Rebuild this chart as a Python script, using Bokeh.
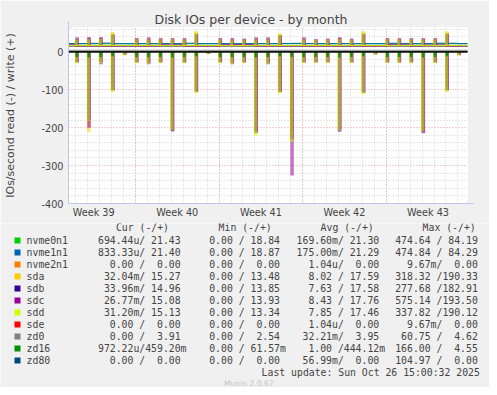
import math
import pandas as pd
from bokeh.plotting import figure
from bokeh.models import Range1d, FixedTicker, Span, Label, Arrow, NormalHead
from bokeh.layouts import column
from bokeh.embed import file_html
from bokeh.resources import INLINE
from bokeh.core.properties import value

# ---------------- data ----------------
days = pd.date_range("2025-09-23", "2025-10-26", freq="D")   # Tue Sep 23 .. Sun Oct 26 (34 days)
spike_hour = 2                                               # nightly burst at 02:00
x_start, x_end = "2025-09-23 09:20", "2025-10-26 19:20"
week_starts = ["2025-09-22", "2025-09-29", "2025-10-06", "2025-10-13", "2025-10-20", "2025-10-27"]
week_label_at = ["2025-09-25 12:00", "2025-10-02 12:00", "2025-10-09 12:00",
                 "2025-10-16 12:00", "2025-10-23 12:00"]
week_labels = ["Week 39", "Week 40", "Week 41", "Week 42", "Week 43"]
y_ticks = [-400, -300, -200, -100, 0]
y_labels = ["-400", "-300", "-200", "-100", "0"]
y_minor = [-380, -360, -340, -320, -280, -260, -240, -220, -180, -160, -140, -120,
           -80, -60, -40, -20, 20, 40, 60]

devices = ["nvme0n1", "nvme1n1", "nvme2n1", "sda", "sdb", "sdc", "sdd", "sde", "zd0", "zd16", "zd80"]
colors = ["#00CC00", "#0066B3", "#FF8000", "#FFCC00", "#330099", "#990099",
          "#CCFF00", "#FF0000", "#808080", "#008F00", "#00487D"]

# write (+) baseline per day, write (+) burst peak, read (-) burst peak
nvme0n1_wbase = [21.3, 21.3, 21.2, 21.3, 21.4, 21.3, 21.3, 21.2, 21.3, 21.3, 21.4, 21.3, 21.3, 21.2, 21.3, 21.3, 21.3,
                 21.4, 21.3, 21.3, 21.3, 21.2, 21.3, 21.3, 21.3, 21.4, 21.3, 21.3, 21.3, 21.2, 21.3, 21.3, 21.4, 21.4]
nvme0n1_read = [0, 0, -3, 0, -7, 0, 0, 0, 0, -3, 0, -7, 0, 0, 0, 0, -6,
                0, -7, -9, 0, 0, 0, -6, 0, -7, 0, 0, 0, 0, -3, 0, -7, 0]
nvme1n1_wbase = [21.4, 21.6, 22.2, 22.8, 21.4, 21.4, 21.4, 21.4, 21.4, 21.5, 22.5, 21.4, 21.4, 21.4, 21.4, 21.4, 21.4,
                 21.4, 22.0, 22.3, 21.6, 21.4, 21.4, 21.6, 21.4, 21.4, 21.4, 22.4, 22.0, 21.4, 21.5, 22.6, 22.5, 21.4]
nvme1n1_read = [0, 0, -3, 0, -8, 0, 0, 0, 0, -3, 0, -8, 0, 0, 0, 0, -8,
                0, -8, -10, 0, 0, 0, -8, 0, -8, 0, 0, 0, 0, -3, 0, -8, 0]
nvme2n1_wbase = [0, 0, 0, 0, 0, 0, 0, 0, 0, 0, 0, 0, 0, 0, 0, 0, 0,
                 0, 0, 0, 0, 0, 0, 0, 0, 0, 0, 0, 0, 0, 0, 0, 0, 0]

sda_wbase = [15.3, 15.3, 15.2, 15.3, 15.4, 15.3, 15.3, 15.3, 15.2, 15.3, 15.3, 15.4, 15.3, 15.3, 15.3, 15.3, 15.2,
             15.3, 15.4, 15.3, 15.3, 15.3, 15.3, 15.2, 15.3, 15.4, 15.3, 15.3, 15.3, 15.3, 15.2, 15.3, 15.4, 15.3]
sda_write = [35, 35, 36, 36, 52, 15.3, 34, 35, 34, 34, 34, 54, 15.3, 34, 33, 33, 35,
             35, 49, 15.3, 35, 32, 33, 36, 33, 54, 15.3, 34, 34, 34, 34, 34, 54, 15.3]
sda_read = [-28, -28, -212, -28, -104, -9, -28, -30, -28, -205, -28, -108, -6, -28, -30, -28, -216,
            -30, -108, -234, -28, -28, -28, -206, -28, -110, -7, -28, -28, -28, -208, -28, -104, -9]

sdb_wbase = [15.0, 15.0, 14.9, 15.0, 15.1, 15.0, 15.0, 15.0, 14.9, 15.0, 15.0, 15.1, 15.0, 15.0, 15.0, 15.0, 14.9,
             15.0, 15.1, 15.0, 15.0, 15.0, 15.0, 14.9, 15.0, 15.1, 15.0, 15.0, 15.0, 15.0, 14.9, 15.0, 15.1, 15.0]
sdb_write = [34, 34, 35, 35, 45, 15.0, 33, 34, 33, 33, 33, 46, 15.0, 33, 32, 32, 34,
             34, 43, 15.0, 34, 31, 32, 35, 32, 46, 15.0, 33, 33, 33, 33, 33, 46, 15.0]
sdb_read = [-26, -27, -180, -27, -100, -7, -27, -28, -27, -208, -27, -104, -5, -27, -28, -27, -214,
            -28, -105, -230, -27, -27, -26, -211, -27, -107, -6, -27, -27, -27, -212, -27, -100, -8]

sdc_wbase = [18.0, 15.1, 15.1, 15.1, 15.1, 15.1, 15.1, 15.1, 18.0, 18.2, 15.1, 15.1, 15.1, 18.3, 18.5, 18.4, 15.1,
             15.1, 15.1, 15.1, 15.1, 15.1, 15.1, 15.1, 15.1, 15.1, 15.1, 18.2, 18.0, 15.1, 17.6, 17.8, 15.1, 15.1]
sdc_write = [38, 38, 39, 39, 46, 15.1, 36, 38, 36, 36, 36, 48, 15.1, 36, 36, 35, 38,
             38, 44, 15.1, 38, 34, 35, 38, 35, 48, 15.1, 36, 36, 36, 36, 36, 48, 15.1]
sdc_read = [-30, -29, -200, -33, -102, -8, -29, -33, -29, -210, -29, -106, -6, -29, -33, -29, -210,
            -33, -107, -326, -29, -29, -29, -205, -29, -108, -7, -29, -29, -29, -215, -29, -102, -9]

sdd_wbase = [16.0, 16.0, 15.9, 16.0, 16.1, 16.0, 16.0, 16.0, 15.9, 16.0, 16.0, 16.1, 16.0, 16.0, 16.0, 16.0, 15.9,
             16.0, 16.1, 16.0, 16.0, 16.0, 16.0, 15.9, 16.0, 16.1, 16.0, 16.0, 16.0, 16.0, 15.9, 16.0, 16.1, 16.0]
sdd_write = [33, 33, 34, 34, 50, 16.0, 33, 33, 33, 33, 33, 52, 16.0, 33, 32, 32, 33,
             33, 47, 16.0, 33, 31, 32, 34, 32, 52, 16.0, 33, 33, 33, 33, 33, 52, 16.0]
sdd_read = [-30, -30, -182, -30, -106, -10, -30, -31, -30, -207, -30, -108, -6, -30, -31, -30, -222,
            -31, -110, -238, -30, -30, -30, -207, -30, -112, -8, -30, -30, -30, -210, -30, -106, -10]

sde_wbase = [0, 0, 0, 0, 0, 0, 0, 0, 0, 0, 0, 0, 0, 0, 0, 0, 0,
             0, 0, 0, 0, 0, 0, 0, 0, 0, 0, 0, 0, 0, 0, 0, 0, 0]
zd0_wbase = [3.9, 3.9, 4.0, 3.9, 3.9, 3.9, 3.9, 4.0, 3.9, 3.9, 3.9, 3.9, 3.9, 4.0, 3.9, 3.9, 3.9,
             3.9, 3.9, 4.0, 3.9, 3.9, 3.9, 3.9, 3.9, 4.0, 3.9, 3.9, 3.9, 3.9, 3.9, 4.0, 3.9, 3.9]
zd16_wbase = [0.45, 0.45, 0.44, 0.45, 0.45, 0.45, 0.44, 0.45, 0.45, 0.45, 0.44, 0.45, 0.45, 0.45, 0.44, 0.45, 0.45,
              0.45, 0.44, 0.45, 0.45, 0.45, 0.44, 0.45, 0.45, 0.45, 0.44, 0.45, 0.45, 0.45, 0.44, 0.45, 0.45, 0.46]
zd16_read = [-14, -14, -15, -14, -12, 0, -14, -14, -14, -15, -14, -12, 0, -14, -14, -14, -15,
             -14, -12, -14, -14, -14, -14, -15, -14, -12, 0, -14, -14, -14, -15, -14, -12, 0]
zd80_wbase = [0, 0, 0, 0, 0, 0, 0, 0, 0, 0, 0, 0, 0, 0, 0, 0, 0,
              0, 0, 0, 0, 0, 0, 0, 0, 0, 0, 0, 0, 0, 0, 0, 0, 0]

# legend table (Cur / Min / Avg / Max as "read/write")
cur_vals = ["694.44u/ 21.43", "833.33u/ 21.40", "  0.00 /  0.00", " 32.04m/ 15.27", " 33.96m/ 14.96",
            " 26.77m/ 15.08", " 31.20m/ 15.13", "  0.00 /  0.00", "  0.00 /  3.91", "972.22u/459.20m",
            "  0.00 /  0.00"]
min_vals = ["  0.00 / 18.84", "  0.00 / 18.87", "  0.00 /  0.00", "  0.00 / 13.48", "  0.00 / 13.85",
            "  0.00 / 13.93", "  0.00 / 13.34", "  0.00 /  0.00", "  0.00 /  2.54", "  0.00 / 61.57m",
            "  0.00 /  0.00"]
avg_vals = ["169.60m/ 21.30", "175.00m/ 21.29", "  1.04u/  0.00", "  8.02 / 17.59", "  7.63 / 17.58",
            "  8.43 / 17.76", "  7.85 / 17.46", "  1.04u/  0.00", " 32.21m/  3.95", "  1.00 /444.12m",
            " 56.99m/  0.00"]
max_vals = ["474.64 / 84.19", "474.84 / 84.29", "  9.67m/  0.00", "318.32 /190.33", "277.68 /182.91",
            "575.14 /193.50", "337.82 /190.12", "  9.67m/  0.00", " 60.75 /  4.62", "166.00 /  4.55",
            "104.97 /  0.00"]
headers = ["Cur (-/+)", "Min (-/+)", "Avg (-/+)", "Max (-/+)"]
title_text = "Disk IOs per device - by month"
y_title = "IOs/second read (-) / write (+)"
side_text = "RRDTOOL / TOBI OETIKER"
last_update = "Last update: Sun Oct 26 15:00:32 2025"
footer = "Munin 2.0.67"

# ---------------- chart ----------------
HOUR = 3600e3


def ms(t):
    return pd.Timestamp(t).value / 1e6


day0 = [ms(d) for d in days]
day1 = day0[1:] + [day0[-1] + 24 * HOUR]

TXT = "#444444"
AXIS = "#C4C4F0"
W = 489
FL, FT, FW, FH = 66, 27, 401, 176          # plot frame: left, top, width, height
H1 = 223

p = figure(width=W, height=H1, output_backend="svg", toolbar_location=None,
           x_range=Range1d(ms(x_start), ms(x_end)), y_range=Range1d(-400, 64),
           min_border_left=FL, min_border_right=W - FL - FW, min_border_top=FT,
           min_border_bottom=H1 - FT - FH,
           background_fill_color="#FFFFFF", border_fill_color="#F0F0F0", outline_line_color=None,
           title=title_text)
p.frame_align = False

p.title.align = "left"
p.title.offset = 86
p.title.standoff = 2
p.title.text_font = "DejaVu Sans"
p.title.text_font_size = "12.5px"
p.title.text_font_style = "normal"
p.title.text_color = TXT

# axes
p.xaxis.ticker = FixedTicker(ticks=[ms(t) for t in week_label_at], minor_ticks=[])
p.xaxis.major_label_overrides = {ms(t): lab for t, lab in zip(week_label_at, week_labels)}
p.yaxis.ticker = FixedTicker(ticks=y_ticks, minor_ticks=y_minor)
p.yaxis.major_label_overrides = dict(zip(y_ticks, y_labels))
for ax in (p.xaxis, p.yaxis):
    ax.axis_line_color = AXIS
    ax.major_tick_line_color = None
    ax.minor_tick_line_color = None
    ax.major_tick_out = 0
    ax.major_tick_in = 0
    ax.minor_tick_out = 0
    ax.minor_tick_in = 0
    ax.major_label_text_font = "DejaVu Sans"
    ax.major_label_text_font_size = "9.7px"
    ax.major_label_text_color = TXT
p.xaxis.major_label_standoff = 3
p.yaxis.major_label_standoff = 5
p.yaxis.axis_label = y_title
p.yaxis.axis_label_text_font = "DejaVu Sans"
p.yaxis.axis_label_text_font_size = "11px"
p.yaxis.axis_label_text_font_style = "normal"
p.yaxis.axis_label_text_color = TXT
p.yaxis.axis_label_standoff = 22

# grids
p.xgrid.ticker = FixedTicker(ticks=[ms(t) for t in week_starts], minor_ticks=day0)
for g in (p.xgrid, p.ygrid):
    g.grid_line_color = "#EBA0A0"
    g.grid_line_dash = "1 2"
    g.minor_grid_line_color = "#D2D2D2"
    g.minor_grid_line_dash = "1 2"

# series
series = [
    ("nvme0n1", nvme0n1_wbase, None, nvme0n1_read),
    ("nvme1n1", nvme1n1_wbase, None, nvme1n1_read),
    ("nvme2n1", nvme2n1_wbase, None, None),
    ("sda", sda_wbase, sda_write, sda_read),
    ("sdb", sdb_wbase, sdb_write, sdb_read),
    ("sdc", sdc_wbase, sdc_write, sdc_read),
    ("sdd", sdd_wbase, sdd_write, sdd_read),
    ("sde", sde_wbase, None, None),
    ("zd0", zd0_wbase, None, None),
    ("zd16", zd16_wbase, None, zd16_read),
    ("zd80", zd80_wbase, None, None),
]
offsets_h = {"sda": 0.0, "sdb": 0.2, "sdc": 0.7, "sdd": -0.7}
for name, wbase, wpeak, rpeak in series:
    col = colors[devices.index(name)]
    off = offsets_h.get(name, 0.0)
    is_sd = name.startswith("sd")
    w = 7.0 * HOUR if is_sd else 5.0 * HOUR
    alpha = 0.55 if is_sd else 0.85
    xs = [d + (spike_hour + off) * HOUR for d in day0]
    if rpeak is not None:
        p.vbar(x=xs, width=w, bottom=0, top=rpeak, fill_color=col, fill_alpha=alpha, line_color=None)
    if wpeak is not None:
        p.vbar(x=xs, width=w, bottom=wbase, top=wpeak, fill_color=col, fill_alpha=alpha, line_color=None)
    p.segment(x0=day0, x1=day1, y0=wbase, y1=wbase, line_color=col, line_width=1)

p.add_layout(Span(location=0, dimension="width", line_color="#000000", line_width=1.2))

# axis arrow heads (rrdtool style)
p.add_layout(Arrow(end=NormalHead(size=6, fill_color=AXIS, line_color=AXIS),
                   x_start=ms(x_start), y_start=64, x_end=ms(x_start), y_end=80,
                   line_color=AXIS, line_width=1))
p.add_layout(Arrow(end=NormalHead(size=6, fill_color=AXIS, line_color=AXIS),
                   x_start=ms(x_end), y_start=-400, x_end=ms(x_end) + 13 * HOUR, y_end=-400,
                   line_color=AXIS, line_width=1))

# watermark on the right edge (screen units, relative to the plot frame)
p.add_layout(Label(x=415.5, y=149.5, x_units="screen", y_units="screen", text=side_text,
                   angle=-math.pi / 2, text_align="center", text_baseline="middle",
                   text_font="DejaVu Sans", text_font_size="7.5px", text_color="#BDBDBD"))

# ---------------- legend area ----------------
H2 = 387 - H1
q = figure(width=W, height=H2, output_backend="svg", toolbar_location=None,
           x_range=Range1d(0, W), y_range=Range1d(H2, 0), min_border=0,
           x_axis_location=None, y_axis_location=None,
           background_fill_color="#F0F0F0", border_fill_color="#F0F0F0", outline_line_color=None)
q.frame_align = False
q.xgrid.visible = False
q.ygrid.visible = False

PITCH = 5.9
FONT = value("DejaVu Sans Mono")
FSIZE = value("9.8px")
Y0 = H1 - 220                       # legend rows were measured from y = 220
row_y = [19.5 - Y0 + 12 * i for i in range(len(devices))]
col_x0 = [97.5, 196.9, 296.1, 394.7]
head_x = [115.4, 218.1, 320.1, 422.1]

q.rect(x=[17] * len(devices), y=[y + 0.5 for y in row_y], width=6, height=6,
       fill_color=colors, line_color=None)
q.text(x=[26.1] * len(devices), y=row_y, text=devices, text_font=FONT, text_font_size=FSIZE,
       text_baseline="middle", text_align="left", text_color=TXT)
q.text(x=head_x, y=[7.3 - Y0] * 4, text=headers, text_font=FONT, text_font_size=FSIZE,
       text_baseline="middle", text_align="left", text_color=TXT)

lx, ly, lt, rx, ry, rt = [], [], [], [], [], []
for x0, vals in zip(col_x0, [cur_vals, min_vals, avg_vals, max_vals]):
    for y, s in zip(row_y, vals):
        left, right = s.split("/")
        lx.append(x0 + 8 * PITCH)
        ly.append(y)
        lt.append((left + "/").strip())
        rx.append(x0 + (8 + len(right.rstrip())) * PITCH)
        ry.append(y)
        rt.append(right.strip())
q.text(x=lx, y=ly, text=lt, text_font=FONT, text_font_size=FSIZE,
       text_baseline="middle", text_align="right", text_color=TXT)
q.text(x=rx, y=ry, text=rt, text_font=FONT, text_font_size=FSIZE,
       text_baseline="middle", text_align="right", text_color=TXT)
q.text(x=[261.1], y=[151.7 - Y0], text=[last_update], text_font=FONT, text_font_size=FSIZE,
       text_baseline="middle", text_align="left", text_color=TXT)
q.text(x=[248.3], y=[162.8 - Y0], text=[footer], text_font=value("DejaVu Sans"),
       text_font_size=value("7.6px"), text_baseline="middle", text_align="center", text_color="#C4C4C4")

layout = column(p, q)
open("out.html", "w").write(file_html(layout, INLINE))
